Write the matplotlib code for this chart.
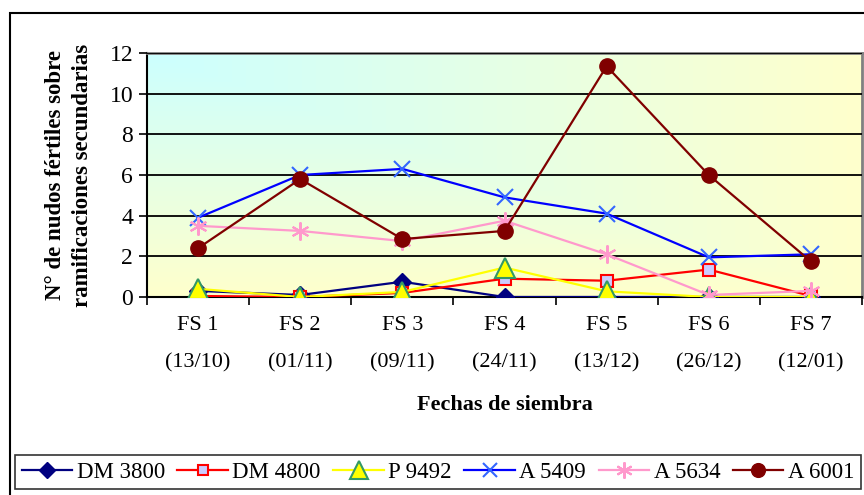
import numpy as np
import matplotlib.pyplot as plt
from matplotlib.patches import Rectangle

plt.rcParams['font.family'] = ['Liberation Serif', 'DejaVu Serif']

fechas = ['FS 1\n(13/10)', 'FS 2\n(01/11)', 'FS 3\n(09/11)', 'FS 4\n(24/11)',
          'FS 5\n(13/12)', 'FS 6\n(26/12)', 'FS 7\n(12/01)']

dm3800 = [0.3, 0.1, 0.75, 0.0, 0.0, 0.0, 0.0]
dm4800 = [0.05, 0.0, 0.2, 0.9, 0.8, 1.35, 0.05]
p9492 = [0.4, 0.0, 0.25, 1.45, 0.28, 0.0, 0.0]
a5409 = [3.9, 6.0, 6.3, 4.9, 4.1, 1.95, 2.1]
a5634 = [3.5, 3.25, 2.75, 3.75, 2.1, 0.1, 0.3]
a6001 = [2.4, 5.8, 2.85, 3.25, 11.35, 6.0, 1.75]

fig = plt.figure(figsize=(8.64, 4.95), dpi=100)
ax = fig.add_axes([147/864, 1-297/495, 715/864, 244/495])

# corner gradient background, cyan top-left to pale yellow
xs = np.linspace(0, 1, 300)
ys = np.linspace(0, 1, 120)
X, Y = np.meshgrid(xs, ys)
t = np.clip(np.maximum(X, Y), 0, 1)
c0 = np.array([204, 255, 255]) / 255
c1 = np.array([255, 255, 204]) / 255
img = c0[None, None, :] * (1 - t[..., None]) + c1[None, None, :] * t[..., None]
ax.imshow(img, extent=[-0.5, 6.5, 0, 12], aspect='auto', zorder=0, origin='upper')

x = np.arange(len(fechas))
ax.plot(x, dm3800, color='#000080', lw=1.6, marker='D', ms=9, mfc='#000080', mec='#000080', label='DM 3800', zorder=3)
ax.plot(x, dm4800, color='#ff0000', lw=1.6, marker='s', ms=8, mfc='#ccccff', mec='#ff0000', mew=1.5, label='DM 4800', zorder=3)
ax.plot(x, p9492, color='#ffff00', lw=1.6, marker='^', ms=14, mfc='#ffff00', mec='#339966', mew=1.5, label='P 9492', zorder=3)
ax.plot(x, a5409, color='#0000ff', lw=1.6, marker='x', ms=11, mec='#3366ff', mew=1.5, label='A 5409', zorder=3)
ax.plot(x, a5634, color='#ff99cc', lw=1.6, marker=(6, 2, 0), ms=13, mec='#ff99cc', mew=1.5, label='A 5634', zorder=3)
ax.plot(x, a6001, color='#800000', lw=1.6, marker='o', ms=11, mfc='#800000', mec='#800000', label='A 6001', zorder=3)

ax.set_xlim(-0.5, 6.5)
ax.set_ylim(0, 12)
ax.set_yticks(range(0, 13, 2))
ax.tick_params(axis='y', labelsize=17, direction='out', length=6, width=1.2, pad=4)
ax.set_xticks(x)
ax.set_xticklabels(fechas, fontsize=16, linespacing=2.25)
ax.tick_params(axis='x', which='major', length=0, pad=14)
ax.set_xticks(np.arange(-0.5, 7, 1), minor=True)
ax.tick_params(axis='x', which='minor', direction='out', length=6, width=1.2)
ax.grid(axis='y', color='black', lw=1.3, zorder=1)
ax.set_axisbelow(False)
for sp in ['top', 'right']:
    ax.spines[sp].set_color('#808080')
    ax.spines[sp].set_linewidth(2)
for sp in ['left', 'bottom']:
    ax.spines[sp].set_color('black')
    ax.spines[sp].set_linewidth(1.5)

ax.set_xlabel('Fechas de siembra', fontsize=16, fontweight='bold', labelpad=16)
ax.set_ylabel('N° de nudos fértiles sobre\nramificaciones secundarias', fontsize=16.5,
              fontweight='bold', labelpad=12, linespacing=1.35)

leg = fig.legend(loc='center', bbox_to_anchor=(14/864, 1-493/495, 848/864, 42/495), ncol=6,
                 fontsize=16.5, frameon=True, fancybox=False, edgecolor='black',
                 handlelength=2.2, handletextpad=0.2, columnspacing=0.55, borderaxespad=0,
                 borderpad=0.3, markerscale=0.9)
leg.get_frame().set_linewidth(1.2)

# outer chart frame
fig.patches.append(Rectangle((10/864, -0.1), 1.2, 1.1 - 13/495, transform=fig.transFigure,
                             fill=False, edgecolor='black', lw=1.5))

fig.savefig('out.png', dpi=100)
